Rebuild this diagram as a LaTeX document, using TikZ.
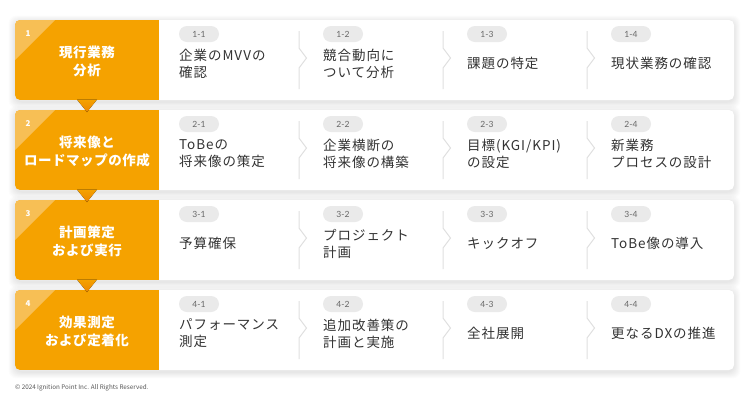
\documentclass[tikz,border=0pt]{standalone}
\usepackage{fontspec}
\setmainfont{Noto Sans CJK JP}
\newfontfamily\badgefont{Lato}
\definecolor{ipOrange}{HTML}{F5A200}
\definecolor{ipLight}{HTML}{F7BF55}
\definecolor{ipDark}{HTML}{EC8600}
\definecolor{ipText}{HTML}{333333}
\definecolor{ipBadge}{HTML}{EAEAEA}
\definecolor{ipBadgeText}{HTML}{666666}
\definecolor{ipSep}{HTML}{E0E0E0}
\definecolor{ipFoot}{HTML}{555555}
\tikzset{
  cardbox/.style={fill=white, rounded corners=5pt, inner sep=0pt, minimum width=719pt, minimum height=80pt},
  headtext/.style={text=white, font=\bfseries\fontsize{13.5}{18}\selectfont\addfontfeature{LetterSpace=4}, align=center, inner sep=0pt},
  numtext/.style={text=white, font=\bfseries\fontsize{8}{9}\selectfont, inner sep=0pt},
  itemtext/.style={text=ipText, font=\fontsize{13.5}{17}\selectfont\addfontfeature{LetterSpace=7}, align=left, anchor=west, inner sep=0pt},
  badge/.style={fill=ipBadge, rounded corners=8pt, minimum width=40pt, minimum height=16pt, inner sep=0pt, text=ipBadgeText, font=\badgefont\fontsize{8.5}{10}\selectfont},
  sepline/.style={draw=ipSep, line width=1pt},
  pointer/.style={top color=ipOrange, bottom color=ipDark},
}
\begin{document}
\begin{tikzpicture}[x=1pt, y=-1pt]
\useasboundingbox[fill=white] (0,0) rectangle (750,400);
% rows
\foreach \r/\ttl in {1/{現行業務\\分析}, 2/{将来像と\\ロードマップの作成}, 3/{計画策定\\および実行}, 4/{効果測定\\および定着化}} {
  \pgfmathsetmacro\rt{20+90*(\r-1)}
  % soft shadow
  \foreach \i in {1,...,8} {
    \fill[black, opacity=0.011, rounded corners=8pt] (15-0.8*\i, \rt-0.8*\i+2) rectangle (734+0.8*\i, \rt+80+0.8*\i+2);
  }
  \node[cardbox] (card-\r) at (374.5, \rt+40) {};
  \begin{scope}
    \clip[rounded corners=5pt] (15,\rt) rectangle (734,\rt+80);
    \fill[ipOrange] (15,\rt) rectangle (159,\rt+80);
    \fill[ipLight] (15,\rt) -- (55,\rt) -- (15,\rt+40) -- cycle;
  \end{scope}
  \node[numtext] (num-\r) at (28, \rt+14) {\r};
  \node[headtext] (head-\r) at (87, \rt+41) {\ttl};
  \foreach \c in {1,2,3,4} {
    \node[badge] (b-\r-\c) at (199+144*\c-144, \rt+14) {\r-\c};
  }
  \foreach \c in {1,2,3} {
    \pgfmathsetmacro\sx{299+144*(\c-1)}
    \draw[sepline, line join=miter] (\sx,\rt+11) -- (\sx,\rt+28) -- (\sx+7.5,\rt+38) -- (\sx,\rt+48) -- (\sx,\rt+69);
  }
}
% pointers between rows
\foreach \r in {1,2,3} {
  \pgfmathsetmacro\rb{100+90*(\r-1)}
  \fill[pointer] (77,\rb-0.5) -- (97,\rb-0.5) -- (87,\rb+12) -- cycle;
}
% item texts
\foreach \r/\c/\txt in {
  1/1/{企業のMVVの\\確認}, 1/2/{競合動向に\\ついて分析}, 1/3/{課題の特定}, 1/4/{現状業務の確認},
  2/1/{ToBeの\\将来像の策定}, 2/2/{企業横断の\\将来像の構築}, 2/3/{目標(KGI/KPI)\\の設定}, 2/4/{新業務\\プロセスの設計},
  3/1/{予算確保}, 3/2/{プロジェクト\\計画}, 3/3/{キックオフ}, 3/4/{ToBe像の導入},
  4/1/{パフォーマンス\\測定}, 4/2/{追加改善策の\\計画と実施}, 4/3/{全社展開}, 4/4/{更なるDXの推進}} {
  \pgfmathsetmacro\rt{20+90*(\r-1)}
  \node[itemtext] (t-\r-\c) at (179+144*\c-144, \rt+43.5) {\txt};
}
\node[anchor=west, inner sep=0pt, text=ipFoot, font=\fontsize{6.3}{7}\selectfont] (foot) at (15,388) {© 2024 Ignition Point Inc. All Rights Reserved.};
\end{tikzpicture}
\end{document}
